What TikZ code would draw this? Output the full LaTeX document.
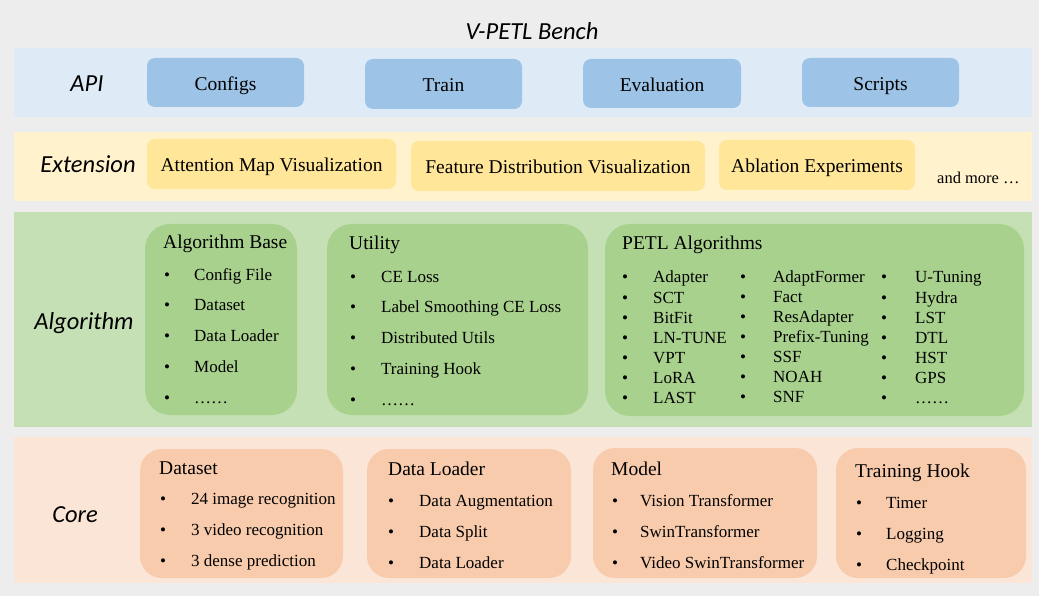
\documentclass[tikz,border=0pt]{standalone}
\usepackage{fontspec}
\setmainfont{Liberation Serif}
\newfontfamily\lblfont{Carlito}

\definecolor{pagebg}{HTML}{EDEDED}
\definecolor{apiband}{HTML}{DEEBF7}
\definecolor{apibox}{HTML}{9DC3E6}
\definecolor{extband}{HTML}{FFF2CC}
\definecolor{extbox}{HTML}{FFE699}
\definecolor{algband}{HTML}{C5E0B4}
\definecolor{algbox}{HTML}{A9D18E}
\definecolor{coreband}{HTML}{FBE5D6}
\definecolor{corebox}{HTML}{F8CBAD}

\tikzset{
  panel/.style={rectangle, inner sep=0pt, outer sep=0pt, anchor=north west, draw=none},
  band/.style={panel},
  pill/.style={panel, rounded corners=8pt, font=\fontsize{19.5}{22}\selectfont,
               text height=18pt, text depth=2pt},
  group/.style={panel},
  layer/.style={font=\lblfont\itshape\fontsize{24.5}{28}\selectfont, inner sep=0pt,
                text height=18pt, text depth=2pt},
  grouptitle/.style={anchor=base west, inner sep=0pt, font=\fontsize{19.5}{22}\selectfont},
  bul/.style={anchor=base, inner sep=0pt, font=\fontsize{17}{20}\selectfont},
  itm/.style={anchor=base west, inner sep=0pt, font=\fontsize{17}{20}\selectfont},
}

% bulleted column: name, bullet x, text x, first baseline, row step, items
\newcommand\bulletcolumn[6]{%
  \foreach \txt [count=\k] in {#6} {
    \node[bul] (#1b\k) at (#2,{#4+#5*(\k-1)}) {•};
    \node[itm] (#1t\k) at (#3,{#4+#5*(\k-1)}) {\txt};
  }%
}

\begin{document}
\begin{tikzpicture}[x=1pt,y=-1pt]
\useasboundingbox (0,0) rectangle (1039,596);
\fill[pagebg] (0,0) rectangle (1039,596);

\node[layer] (title) at (532,32) {V-PETL Bench};

% ---- API layer ----
\node[band, fill=apiband, minimum width=1018pt, minimum height=69pt] (apiband) at (14,48) {};
\node[layer] (apilbl) at (87,84) {API};
\node[pill, fill=apibox, minimum width=157pt, minimum height=49pt] (configs) at (147,58) {Configs};
\node[pill, fill=apibox, minimum width=157pt, minimum height=50pt] (train) at (365,59) {Train};
\node[pill, fill=apibox, minimum width=158pt, minimum height=49pt] (evaluation) at (583,59) {Evaluation};
\node[pill, fill=apibox, minimum width=157pt, minimum height=49pt] (scripts) at (802,58) {Scripts};

% ---- Extension layer ----
\node[band, fill=extband, minimum width=1018pt, minimum height=69pt] (extband) at (14,132) {};
\node[layer] (extlbl) at (88,165) {Extension};
\node[pill, fill=extbox, minimum width=249pt, minimum height=50pt] (attn) at (147,139) {Attention Map Visualization};
\node[pill, fill=extbox, minimum width=294pt, minimum height=50pt] (featdist) at (411,141) {Feature Distribution Visualization};
\node[pill, fill=extbox, minimum width=196pt, minimum height=50pt] (ablation) at (719,140) {Ablation Experiments};
\node[itm, font=\fontsize{16.5}{19}\selectfont] (andmore) at (937,184) {and more …};

% ---- Algorithm layer ----
\node[band, fill=algband, minimum width=1018pt, minimum height=215pt] (algband) at (14,212) {};
\node[layer] (alglbl) at (84,321) {Algorithm};
\node[group, fill=algbox, rounded corners=25pt, minimum width=152pt, minimum height=191pt] (algbase) at (145,224) {};
\node[group, fill=algbox, rounded corners=25pt, minimum width=261pt, minimum height=191pt] (utility) at (327,224) {};
\node[group, fill=algbox, rounded corners=25pt, minimum width=419pt, minimum height=192pt] (petl) at (605,224) {};

\node[grouptitle] (algbasetitle) at (163,249) {Algorithm Base};
\bulletcolumn{ab}{167}{194}{280}{30.8}{Config File,Dataset,Data Loader,Model,……}

\node[grouptitle] (utilitytitle) at (349,250) {Utility};
\bulletcolumn{ut}{353}{381}{282}{30.8}{CE Loss,Label Smoothing CE Loss,Distributed Utils,Training Hook,……}

\node[grouptitle] (petltitle) at (622,250) {PETL Algorithms};
\bulletcolumn{pa}{625}{653}{283}{20.1}{Adapter,SCT,BitFit,LN-TUNE,VPT,LoRA,LAST}
\bulletcolumn{pb}{743}{773}{282}{20.1}{AdaptFormer,Fact,ResAdapter,Prefix-Tuning,SSF,NOAH,SNF}
\bulletcolumn{pc}{884}{915}{283}{20.1}{U-Tuning,Hydra,LST,DTL,HST,GPS,……}

% ---- Core layer ----
\node[band, fill=coreband, minimum width=1018pt, minimum height=146pt] (coreband) at (14,437) {};
\node[layer] (corelbl) at (75,514) {Core};
\node[group, fill=corebox, rounded corners=22pt, minimum width=203pt, minimum height=129pt] (dataset) at (140,449) {};
\node[group, fill=corebox, rounded corners=22pt, minimum width=204pt, minimum height=129pt] (dataloader) at (367,449) {};
\node[group, fill=corebox, rounded corners=22pt, minimum width=224pt, minimum height=130pt] (model) at (593,448) {};
\node[group, fill=corebox, rounded corners=22pt, minimum width=190pt, minimum height=130pt] (hook) at (836,448) {};

\node[grouptitle] (datasettitle) at (159,474) {Dataset};
\bulletcolumn{ds}{163}{191}{504}{31.2}{24 image recognition,3 video recognition,3 dense prediction}

\node[grouptitle] (dataloadertitle) at (388,475) {Data Loader};
\bulletcolumn{dl}{391}{419}{506}{31}{Data Augmentation,Data Split,Data Loader}

\node[grouptitle] (modeltitle) at (611,475) {Model};
\bulletcolumn{md}{615}{640}{506}{31}{Vision Transformer,SwinTransformer,Video SwinTransformer}

\node[grouptitle] (hooktitle) at (855,477) {Training Hook};
\bulletcolumn{th}{859}{886}{508}{31}{Timer,Logging,Checkpoint}
\end{tikzpicture}
\end{document}
